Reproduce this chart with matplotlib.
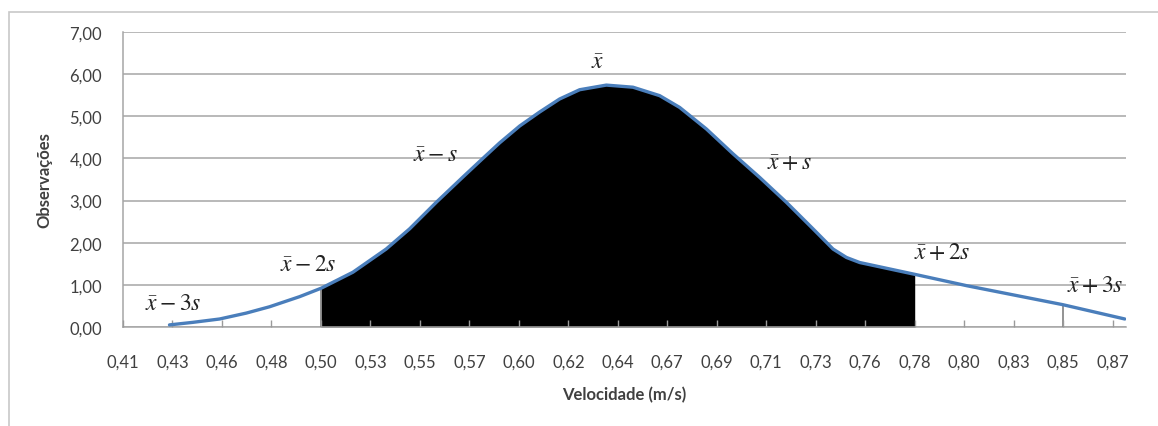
import numpy as np
import matplotlib
matplotlib.use("Agg")
import matplotlib.pyplot as plt
from matplotlib.patches import Rectangle

velocidade = [0.4318, 0.4427, 0.4553, 0.4678, 0.4787, 0.4928, 0.5029, 0.5178,
              0.5334, 0.5444, 0.5569, 0.5694, 0.5787, 0.5866, 0.5960, 0.6053,
              0.6147, 0.6241, 0.6366, 0.6491, 0.6616, 0.6710, 0.6835, 0.6960,
              0.7085, 0.7210, 0.7335, 0.7429, 0.7492, 0.7554, 0.7812, 0.8056,
              0.8506, 0.8797]
observacoes = [0.05, 0.11, 0.19, 0.33, 0.48, 0.72, 0.92, 1.30,
               1.85, 2.33, 2.96, 3.56, 4.00, 4.37, 4.77, 5.10,
               5.41, 5.63, 5.74, 5.69, 5.49, 5.21, 4.70, 4.11,
               3.55, 2.96, 2.33, 1.85, 1.65, 1.53, 1.25, 0.98,
               0.53, 0.19]

# x axis category labels
x_start = 0.41
x_step = 0.0232
x_labels = ["0,41", "0,43", "0,46", "0,48", "0,50", "0,53", "0,55", "0,57",
            "0,60", "0,62", "0,64", "0,67", "0,69", "0,71", "0,73", "0,76",
            "0,78", "0,80", "0,83", "0,85", "0,87"]
y_ticks = [0, 1, 2, 3, 4, 5, 6, 7]

# shaded band (x-2s .. x+2s) and marker at x+3s
band_lo, band_hi = 0.5029, 0.7812
marker_3s = 0.8506

# labels: text, x, y
anotacoes = [
    (r"$\bar{x}-3s$", 0.4337, 0.59),
    (r"$\bar{x}-2s$", 0.4970, 1.50),
    (r"$\bar{x}-s$", 0.5566, 4.10),
    (r"$\bar{x}$", 0.6325, 6.30),
    (r"$\bar{x}+s$", 0.7226, 3.90),
    (r"$\bar{x}+2s$", 0.7940, 1.80),
    (r"$\bar{x}+3s$", 0.8660, 1.02),
]

plt.rcParams['font.family'] = ['Lato', 'DejaVu Sans']
plt.rcParams['mathtext.fontset'] = 'stix'

fig = plt.figure(figsize=(11.58, 4.27), dpi=100)
ax = fig.add_axes([123 / 1158, 1 - 328 / 427, (1126 - 123) / 1158, (328 - 33) / 427])

# outer chart frame
fig.patches.append(Rectangle((9 / 1158, -0.1), 1.1, 0.1 + (427 - 13) / 427,
                             transform=fig.transFigure, fill=False,
                             edgecolor='#c8c8c8', linewidth=1.2))

x = np.array(velocidade)
y = np.array(observacoes)

mask = (x >= band_lo) & (x <= band_hi)
ax.fill_between(x, 0, y, where=mask, color='black', linewidth=0, zorder=2)
ax.plot(x, y, color='#4a7ebb', linewidth=2.4, zorder=4,
        solid_capstyle='round', solid_joinstyle='round')

# drop lines
y_lo = observacoes[velocidade.index(band_lo)]
y_3s = observacoes[velocidade.index(marker_3s)]
ax.vlines(band_lo, 0, y_lo, color='#808080', linewidth=1.2, zorder=3)
ax.vlines(marker_3s, 0, y_3s, color='#808080', linewidth=1.2, zorder=3)

for txt, tx, ty in anotacoes:
    ax.text(tx, ty, txt, ha='center', va='center', fontsize=17, color='#222222', zorder=5)

xticks = [x_start + i * x_step for i in range(len(x_labels))]
ax.set_xticks(xticks)
ax.set_xticklabels(x_labels)
ax.set_xlim(x_start, x_start + 20.27 * x_step)
ax.set_ylim(0, 7)
ax.set_yticks(y_ticks)
ax.set_yticklabels([f"{v:.2f}".replace(".", ",") for v in y_ticks])

ax.grid(axis='y', color='#a6a6a6', linewidth=1.1)
ax.yaxis.set_zorder(0.5)
ax.xaxis.set_zorder(3)
ax.tick_params(axis='x', direction='in', length=5, width=1, color='#9a9a9a',
               pad=19, labelsize=12, labelcolor='#404040')
ax.tick_params(axis='y', length=0, pad=15, labelsize=12, labelcolor='#404040')

for side in ['top', 'right']:
    ax.spines[side].set_visible(False)
for side in ['left', 'bottom']:
    ax.spines[side].set_color('#a6a6a6')
    ax.spines[side].set_linewidth(1.1)

ax.set_xlabel("Velocidade (m/s)", fontsize=12, fontweight='bold', color='#404040', labelpad=12)
ax.set_ylabel("Observações", fontsize=12, fontweight='bold', color='#404040', labelpad=12)

fig.savefig("out.png", dpi=100)
